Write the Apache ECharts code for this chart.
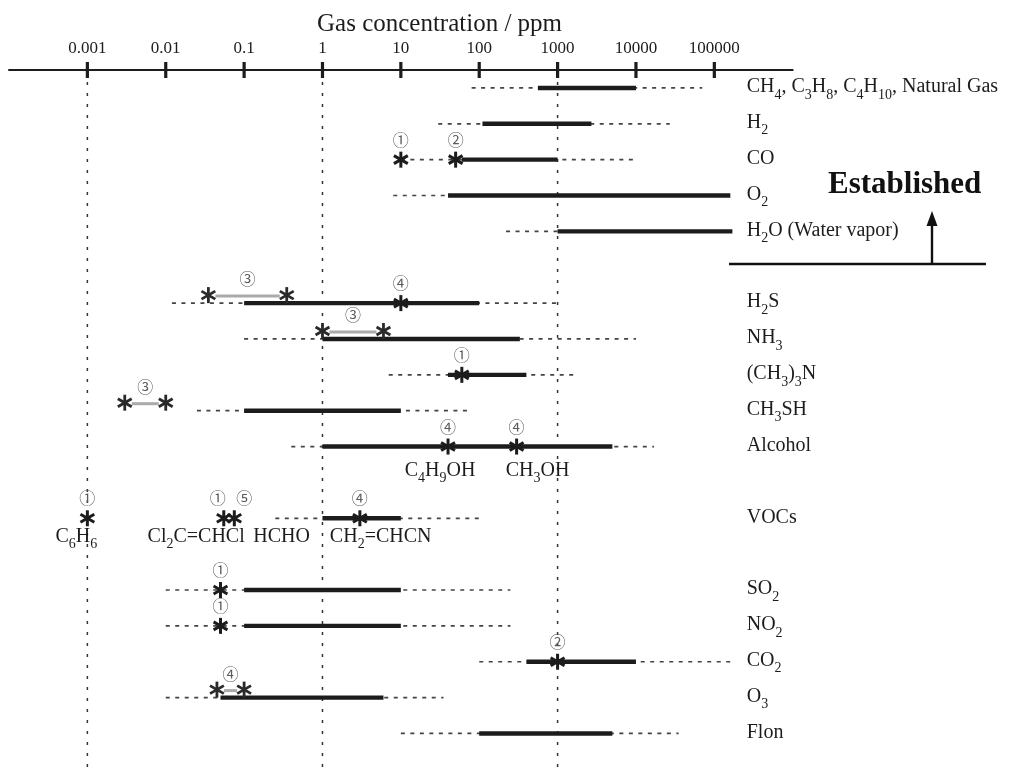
<!DOCTYPE html>
<html><head><meta charset="utf-8">
<script src="https://cdn.jsdelivr.net/npm/echarts@6.0.0/dist/echarts.min.js"></script>
<style>html,body{margin:0;padding:0;background:#fff}#c{width:1025px;height:769px}</style>
</head><body><div id="c"></div>
<script>
// ---------------- DATA ----------------
const rows = ['CH4, C3H8, C4H10, Natural Gas', 'H2', 'CO', 'O2', 'H2O (Water vapor)', '_divider',
  'H2S', 'NH3', '(CH3)3N', 'CH3SH', 'Alcohol', '_gap1', 'VOCs', '_gap2', 'SO2', 'NO2', 'CO2', 'O3', 'Flon'];
const tickValues = [0.001, 0.01, 0.1, 1, 10, 100, 1000, 10000, 100000];
const tickLabels = ['0.001', '0.01', '0.1', '1', '10', '100', '1000', '10000', '100000'];
const guideValues = [0.001, 1, 1000];
// established detection range (solid bar): [gas, low, high] ppm
const detectRanges = [
  ['CH4, C3H8, C4H10, Natural Gas', 560, 10000], ['H2', 110, 2700], ['CO', 60, 1000],
  ['O2', 40, 160000], ['H2O (Water vapor)', 1000, 170000], ['H2S', 0.1, 100], ['NH3', 1, 330],
  ['(CH3)3N', 40, 400], ['CH3SH', 0.1, 10], ['Alcohol', 1, 5000], ['VOCs', 1, 10],
  ['SO2', 0.1, 10], ['NO2', 0.1, 10], ['CO2', 400, 10000], ['O3', 0.05, 6], ['Flon', 100, 5000]
];
// extended range (dashed): [gas, low, high] ppm
const extendedRanges = [
  ['CH4, C3H8, C4H10, Natural Gas', 80, 70000], ['H2', 30, 27000], ['CO', 10, 10000],
  ['O2', 8, 160000], ['H2O (Water vapor)', 220, 170000], ['H2S', 0.012, 1000], ['NH3', 0.1, 10000],
  ['(CH3)3N', 7, 1800], ['CH3SH', 0.025, 70], ['Alcohol', 0.4, 17000], ['VOCs', 0.25, 100],
  ['SO2', 0.01, 250], ['NO2', 0.01, 250], ['CO2', 100, 160000], ['O3', 0.01, 35], ['Flon', 10, 35000]
];
// single reported values: [gas, ppm, reference mark, compound]
const singleStars = [
  ['CO', 10, '①', ''], ['CO', 50, '②', ''], ['H2S', 10, '④', ''], ['(CH3)3N', 60, '①', ''],
  ['Alcohol', 40, '④', 'C4H9OH'], ['Alcohol', 300, '④', 'CH3OH'],
  ['VOCs', 0.001, '①', 'C6H6'], ['VOCs', 0.055, '①', 'Cl2C=CHCl'], ['VOCs', 0.075, '⑤', 'HCHO'],
  ['VOCs', 3, '④', 'CH2=CHCN'],
  ['SO2', 0.05, '①', ''], ['NO2', 0.05, '①', ''], ['CO2', 1000, '②', '']
];
// reported ranges (pair of stars): [gas, low, high, reference mark]
const pairStars = [
  ['H2S', 0.035, 0.35, '③'], ['NH3', 1, 6, '③'], ['CH3SH', 0.003, 0.01, '③'], ['O3', 0.045, 0.1, '④']
];

// ---------------- LAYOUT / STYLE ----------------
const compoundLayout = {
  'C4H9OH': {dx: -8, dy: 25, align: 'center'}, 'CH3OH': {dx: 21, dy: 25, align: 'center'},
  'C6H6': {dx: -11, dy: 19, align: 'center'}, 'Cl2C=CHCl': {dx: 21, dy: 19, align: 'right'},
  'HCHO': {dx: 19, dy: 19, align: 'left'}, 'CH2=CHCN': {dx: -30, dy: 19, align: 'left'}
};
const markDx = {'Cl2C=CHCl': -6, 'HCHO': 10};
const INK = '#1c1c1c';
const SERIF = '"Liberation Serif", "Times New Roman", serif';
const CIRC = '"Noto Sans CJK JP", "DejaVu Sans", sans-serif';
const subRich = {
  m: {fontSize: 20, lineHeight: 22, verticalAlign: 'top', fontFamily: SERIF, color: INK, fill: INK},
  s: {fontSize: 14, lineHeight: 22, verticalAlign: 'top', padding: [11, 0, 0, 0], fontFamily: SERIF, color: INK, fill: INK}
};
function subscriptify(s) {
  // split into plain / subscript fragments so every fragment is styled explicitly
  const parts = s.split(/(?<=[A-Za-z\)])(\d+)/);
  return parts.map((p, i) => p === '' ? '' : (i % 2 === 1 ? '{s|' + p + '}' : '{m|' + p + '}')).join('');
}
function idx(g) { return rows.indexOf(g); }

function starEls(cx, cy, r, color, lw) {
  const els = [];
  for (let k = 0; k < 3; k++) {
    const a = Math.PI / 2 + k * Math.PI / 3;
    const dx = r * Math.cos(a), dy = r * Math.sin(a);
    els.push({type: 'line', shape: {x1: cx - dx, y1: cy - dy, x2: cx + dx, y2: cy + dy},
      style: {stroke: color, lineWidth: lw}});
  }
  return els;
}
function markText(text, x, y) {
  return {type: 'text', style: {text: text, x: x, y: y, align: 'center', verticalAlign: 'middle',
    fontFamily: CIRC, fontSize: 16, fill: '#5a5a5a'}};
}

const chart = echarts.init(document.getElementById('c'), null, {renderer: 'canvas'});
const option = {
  backgroundColor: '#fff',
  animation: false,
  title: {text: 'Gas concentration / ppm', left: 312, top: 7,
    textStyle: {fontFamily: SERIF, fontSize: 25, fontWeight: 'normal', color: INK}},
  grid: {left: 9, right: 232.3, top: 70, bottom: 17.6},
  xAxis: {
    type: 'log', logBase: 10, min: 0.0001, max: 1000000, position: 'top',
    axisLine: {show: true, lineStyle: {color: INK, width: 2}},
    axisTick: {show: false}, splitLine: {show: false},
    axisLabel: {
      margin: 13, fontFamily: SERIF, fontSize: 17, color: INK,
      formatter: function (v) {
        const e = Math.round(Math.log10(v));
        const i = tickValues.findIndex(t => Math.round(Math.log10(t)) === e);
        return i >= 0 ? tickLabels[i] : '';
      }
    }
  },
  yAxis: {
    type: 'category', data: rows, inverse: true, position: 'right', offset: -46,
    axisLine: {show: false}, axisTick: {show: false}, splitLine: {show: false},
    axisLabel: {
      interval: 0, margin: 0, align: 'left', fontFamily: SERIF, fontSize: 20, lineHeight: 22, color: INK,
      formatter: function (name) { return name.charAt(0) === '_' ? '' : subscriptify(name); },
      rich: subRich
    }
  },
  graphic: [
    {type: 'text', style: {text: 'Established', x: 828, y: 185, verticalAlign: 'middle',
      font: 'bold 31px "Liberation Serif"', fill: '#111'}},
    {type: 'line', shape: {x1: 729, y1: 264, x2: 986, y2: 264}, style: {stroke: '#111', lineWidth: 2.6}},
    {type: 'line', shape: {x1: 932, y1: 263, x2: 932, y2: 222}, style: {stroke: '#111', lineWidth: 2.4}},
    {type: 'polygon', shape: {points: [[932, 211], [926.5, 226], [937.5, 226]]}, style: {fill: '#111'}}
  ],
  series: [
    { // vertical dotted guides
      type: 'custom', silent: true, z: 1,
      data: guideValues.map(v => [v, 0]), encode: {x: 0, y: 1},
      renderItem: function (params, api) {
        const x = api.coord([api.value(0), 0])[0];
        const cs = params.coordSys;
        return {type: 'line', shape: {x1: x, y1: cs.y + 12, x2: x, y2: cs.y + cs.height + 20},
          style: {stroke: '#333', lineWidth: 1.5, lineDash: [3, 8]}};
      }
    },
    { // axis ticks crossing the axis line
      type: 'custom', silent: true, z: 5,
      data: tickValues.map(v => [v, 0]), encode: {x: 0, y: 1},
      renderItem: function (params, api) {
        const x = api.coord([api.value(0), 0])[0];
        const y = params.coordSys.y;
        return {type: 'line', shape: {x1: x, y1: y - 8, x2: x, y2: y + 8},
          style: {stroke: INK, lineWidth: 3.2}};
      }
    },
    { // extended ranges (dashed)
      type: 'custom', silent: true, z: 2,
      data: extendedRanges.map(r => [r[1], r[2], idx(r[0])]), encode: {x: [0, 1], y: 2},
      renderItem: function (params, api) {
        const a = api.coord([api.value(0), api.value(2)]);
        const b = api.coord([api.value(1), api.value(2)]);
        return {type: 'line', shape: {x1: a[0], y1: a[1], x2: b[0], y2: b[1]},
          style: {stroke: '#444', lineWidth: 1.7, lineDash: [4, 5.5]}};
      }
    },
    { // detection ranges (solid bars)
      type: 'custom', silent: true, z: 3,
      data: detectRanges.map(r => [r[1], r[2], idx(r[0])]), encode: {x: [0, 1], y: 2},
      renderItem: function (params, api) {
        const a = api.coord([api.value(0), api.value(2)]);
        const b = api.coord([api.value(1), api.value(2)]);
        return {type: 'line', shape: {x1: a[0], y1: a[1], x2: b[0], y2: b[1]},
          style: {stroke: INK, lineWidth: 4.4}};
      }
    },
    { // reported ranges: pair of stars with grey connector
      type: 'custom', silent: true, z: 4,
      data: pairStars.map(p => [p[1], p[2], idx(p[0])]), encode: {x: [0, 1], y: 2},
      renderItem: function (params, api) {
        const p = pairStars[params.dataIndex];
        const a = api.coord([api.value(0), api.value(2)]);
        const b = api.coord([api.value(1), api.value(2)]);
        const mid = api.coord([Math.sqrt(api.value(0) * api.value(1)), api.value(2)]);
        const y = a[1] - 8;
        const kids = [{type: 'line', shape: {x1: a[0] + 7, y1: y + 1, x2: b[0] - 7, y2: y + 1},
          style: {stroke: '#aaa', lineWidth: 3}}];
        return {type: 'group', children: kids
          .concat(starEls(a[0], y, 8, '#2a2a2a', 2.8))
          .concat(starEls(b[0], y, 8, '#2a2a2a', 2.8))
          .concat([markText(p[3], mid[0], a[1] - 24)])};
      }
    },
    { // single reported values
      type: 'custom', silent: true, z: 6,
      data: singleStars.map(s => [s[1], idx(s[0])]), encode: {x: 0, y: 1},
      renderItem: function (params, api) {
        const s = singleStars[params.dataIndex];
        const c = api.coord([api.value(0), api.value(1)]);
        const kids = starEls(c[0], c[1], 8, INK, 3);
        kids.push(markText(s[2], c[0] + (markDx[s[3]] || 0), c[1] - 20));
        if (s[3]) {
          const L = compoundLayout[s[3]];
          kids.push({type: 'text', style: {text: subscriptify(s[3]), x: c[0] + L.dx, y: c[1] + L.dy,
            align: L.align, verticalAlign: 'middle', fontFamily: SERIF, fontSize: 19, lineHeight: 22,
            fill: INK, rich: subRich}});
        }
        return {type: 'group', children: kids};
      }
    }
  ]
};
chart.setOption(option);
</script>
</body></html>
